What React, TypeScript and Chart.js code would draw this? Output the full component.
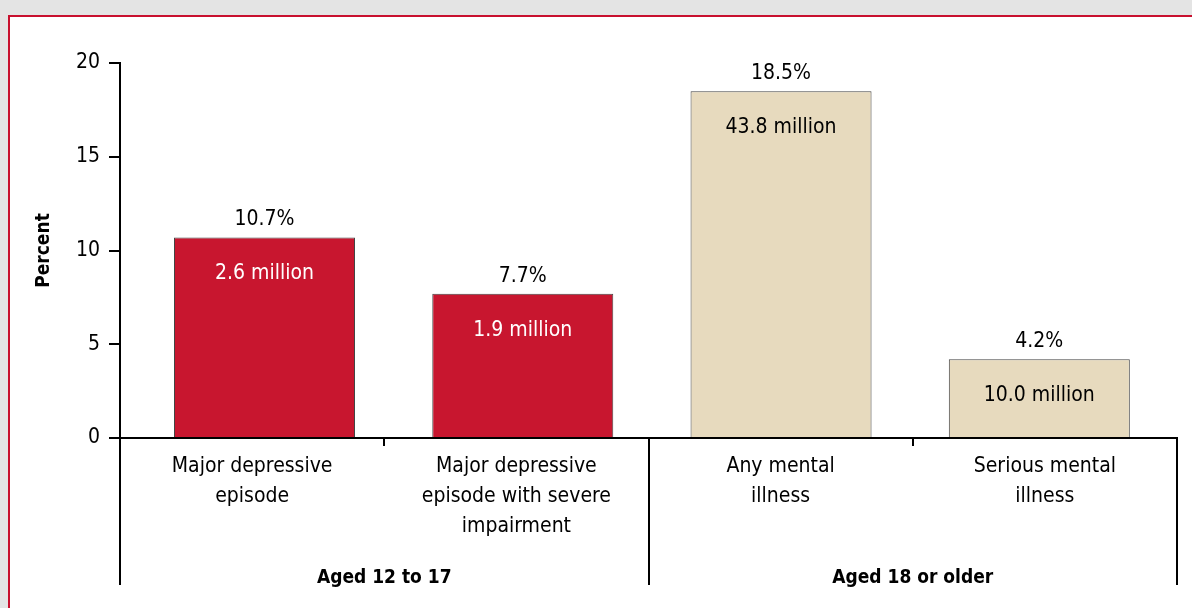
import { useEffect, useRef } from "react";
import { Chart, registerables } from "chart.js";

Chart.register(...registerables);

const categories: string[][] = [
  ["Major depressive", "episode"],
  ["Major depressive", "episode with severe", "impairment"],
  ["Any mental", "illness"],
  ["Serious mental", "illness"],
];
const barPositions = [0, 1, 2, 3];
const percentValues = [10.7, 7.7, 18.5, 4.2];
const percentLabels = ["10.7%", "7.7%", "18.5%", "4.2%"];
const millionLabels = ["2.6 million", "1.9 million", "43.8 million", "10.0 million"];
const groupLabels = ["Aged 12 to 17", "Aged 18 or older"];
const groupStart = [0, 2];
const groupEnd = [1, 3];
const barColors = ["#c8162f", "#c8162f", "#e7dabe", "#e7dabe"];
const innerLabelColors = ["#ffffff", "#ffffff", "#000000", "#000000"];

const FONT = '"DejaVu Sans Condensed", "Liberation Sans Narrow", "Arial Narrow", sans-serif';

const annotations = {
  id: "annotations",
  afterDatasetsDraw(chart: any) {
    const ctx = chart.ctx;
    const meta = chart.getDatasetMeta(0);
    const xs = chart.scales.x;
    const area = chart.chartArea;
    ctx.save();
    ctx.textAlign = "center";
    ctx.textBaseline = "alphabetic";
    ctx.font = `21px ${FONT}`;
    meta.data.forEach((bar: any, i: number) => {
      ctx.fillStyle = "#000000";
      ctx.fillText(percentLabels[i], bar.x, bar.y - 12);
      ctx.fillStyle = innerLabelColors[i];
      ctx.fillText(millionLabels[i], bar.x, bar.y + 42);
    });
    const n = categories.length;
    const edge = (k: number) => {
      if (k <= 0) return area.left;
      if (k >= n) return area.right;
      return (xs.getPixelForValue(k - 1) + xs.getPixelForValue(k)) / 2;
    };
    ctx.strokeStyle = "#000000";
    ctx.lineWidth = 2;
    const lineBottom = 585;
    const edges = new Set<number>();
    groupStart.forEach((s) => edges.add(s));
    groupEnd.forEach((e) => edges.add(e + 1));
    edges.forEach((k) => {
      const px = Math.round(edge(k));
      ctx.beginPath();
      ctx.moveTo(px, area.bottom);
      ctx.lineTo(px, lineBottom);
      ctx.stroke();
    });
    ctx.font = `bold 19px ${FONT}`;
    ctx.fillStyle = "#000000";
    groupLabels.forEach((g, i) => {
      const cx = (edge(groupStart[i]) + edge(groupEnd[i] + 1)) / 2;
      ctx.fillText(g, cx, 583);
    });
    ctx.restore();
  },
};

export default function App() {
  const ref = useRef<HTMLCanvasElement | null>(null);
  useEffect(() => {
    if (!ref.current) return;
    const chart = new Chart(ref.current, {
      type: "bar",
      data: {
        labels: categories,
        datasets: [
          {
            data: barPositions.map((p, i) => ({ x: p, y: percentValues[i] })),
            xAxisID: "xb",
            backgroundColor: barColors,
            borderColor: "#444444",
            borderWidth: 1,
            barPercentage: 0.7008,
            categoryPercentage: 1,
          },
        ],
      },
      options: {
        responsive: false,
        animation: false,
        layout: { padding: { top: 63, right: 15, left: 0, bottom: 0 } },
        plugins: { legend: { display: false }, tooltip: { enabled: false } },
        scales: {
          xb: {
            type: "linear",
            display: false,
            min: -0.5595,
            max: 3.5331,
            offset: false,
            afterBuildTicks: (s: any) => {
              s.ticks = barPositions.map((v) => ({ value: v }));
            },
          },
          x: {
            type: "category",
            afterFit: (s: any) => {
              s.height = 170;
            },
            grid: {
              drawOnChartArea: false,
              drawTicks: true,
              tickLength: 8,
              color: "#000000",
              lineWidth: 2,
              offset: true,
            },
            border: { display: true, color: "#000000", width: 2 },
            ticks: {
              color: "#000000",
              font: { family: FONT, size: 21, lineHeight: 30 / 21 },
              padding: 6,
              maxRotation: 0,
              autoSkip: false,
            },
          },
          y: {
            min: 0,
            max: 20,
            afterFit: (s: any) => {
              s.width = 120;
            },
            grid: {
              drawOnChartArea: false,
              drawTicks: true,
              tickLength: 11,
              color: "#000000",
              lineWidth: 2,
            },
            border: { display: true, color: "#000000", width: 2 },
            ticks: {
              stepSize: 5,
              color: "#000000",
              font: { family: FONT, size: 21 },
              padding: 9,
            },
            title: {
              display: true,
              text: "Percent",
              color: "#000000",
              font: { family: FONT, size: 19, weight: "bold" },
              padding: { top: 33, bottom: 0 },
            },
          },
        },
      },
      plugins: [annotations],
    });
    return () => chart.destroy();
  }, []);

  return (
    <div style={{ position: "fixed", left: 0, top: 0, width: 1192, height: 608, background: "#e4e4e4", overflow: "hidden" }}>
      <div
        style={{
          position: "absolute",
          left: 8,
          top: 15,
          width: 1200,
          height: 620,
          background: "#ffffff",
          borderTop: "2px solid #c8102e",
          borderLeft: "2px solid #c8102e",
        }}
      />
      <canvas ref={ref} width={1192} height={608} style={{ position: "absolute", left: 0, top: 0, width: 1192, height: 608 }} />
    </div>
  );
}
